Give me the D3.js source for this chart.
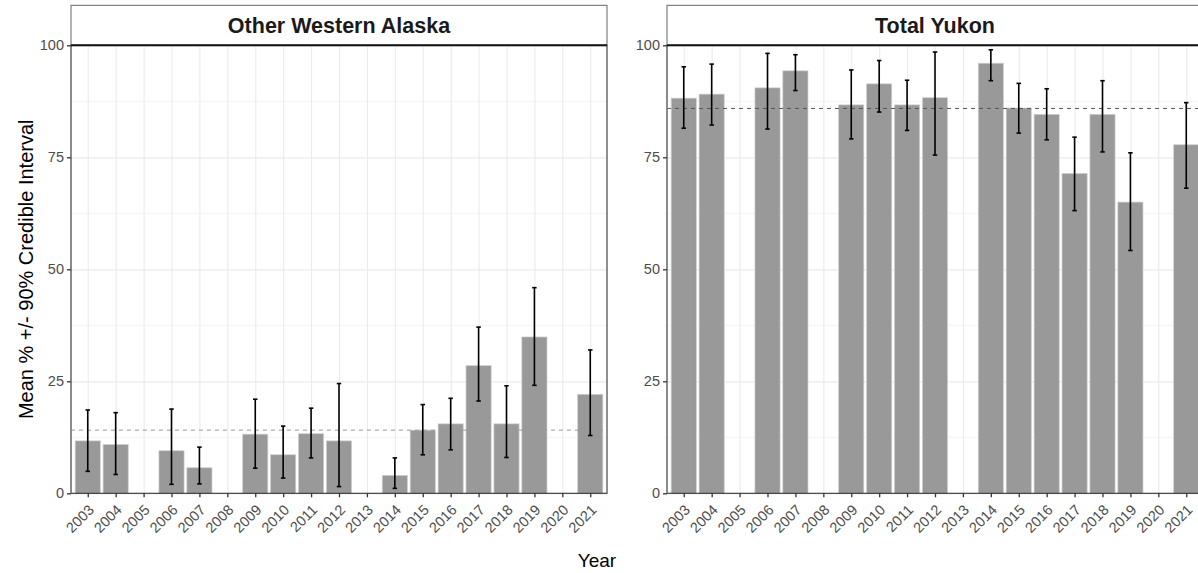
<!DOCTYPE html>
<html>
<head>
<meta charset="utf-8">
<script src="https://cdn.jsdelivr.net/npm/d3@7"></script>
<style>
	body { margin: 0; background: #fff; }
	svg { display: block; overflow: hidden; font-family: "Liberation Sans", Arial, sans-serif; }
	.grid line { stroke: #ebebeb; }
	.grid path { display: none; }
	.axis path { display: none; }
	.axis line { stroke: #333; }
	.axis text { fill: #4d4d4d; }
</style>
</head>
<body>
<svg width="1198" height="573"></svg>
<script>
var years = ["2003","2004","2005","2006","2007","2008","2009","2010","2011","2012","2013","2014","2015","2016","2017","2018","2019","2020","2021"];
var yTicks = [0, 25, 50, 75, 100];
var panelTitles = ["Other Western Alaska", "Total Yukon"];

// null = no estimate that year
var owaMean  = [11.7, 10.9, null, 9.5, 5.7, null, 13.2, 8.6, 13.3, 11.7, null, 4.0, 14.1, 15.5, 28.5, 15.5, 34.9, null, 22.1];
var owaLower = [4.9, 4.2, null, 2.0, 2.1, null, 5.6, 3.4, 7.9, 1.5, null, 1.1, 8.6, 9.7, 20.6, 8.0, 24.1, null, 12.9];
var owaUpper = [18.6, 18.0, null, 18.8, 10.3, null, 21.0, 15.0, 19.0, 24.5, null, 7.9, 19.8, 21.2, 37.1, 24.0, 45.9, null, 32.0];
var owaAvg = 14.1;

var yukMean  = [88.2, 89.1, null, 90.5, 94.3, null, 86.7, 91.4, 86.7, 88.3, null, 96.0, 86.0, 84.6, 71.4, 84.6, 65.0, null, 77.8];
var yukLower = [81.5, 82.2, null, 81.3, 89.9, null, 79.1, 85.1, 81.0, 75.5, null, 92.1, 80.4, 78.9, 63.1, 76.2, 54.2, null, 68.1];
var yukUpper = [95.2, 95.8, null, 98.2, 97.9, null, 94.5, 96.6, 92.2, 98.5, null, 99.0, 91.5, 90.3, 79.5, 92.1, 76.0, null, 87.2];
var yukAvg = 85.9;

function rows(mean, lo, hi) {
	return years.map(function(y, i) { return {year: y, mean: mean[i], lo: lo[i], hi: hi[i]}; })
		.filter(function(d) { return d.mean != null; });
}

var panels = [
	{title: panelTitles[0], left: 71, data: rows(owaMean, owaLower, owaUpper), avg: owaAvg, avgColor: "#9a9a9a"},
	{title: panelTitles[1], left: 667, data: rows(yukMean, yukLower, yukUpper), avg: yukAvg, avgColor: "#555"}
];

var panelW = 536, panelTop = 45.3, panelH = 448, stripH = 40;
var svg = d3.select("svg");

var x = d3.scalePoint().domain(years).range([0, panelW]).padding(0.6);
var y = d3.scaleLinear().domain([0, 100]).range([panelH, 0]);
var step = x.step();
var barW = step * 0.9, capW = step * 0.16;

panels.forEach(function(p) {
	var g = svg.append("g").attr("transform", "translate(" + p.left + "," + panelTop + ")");

	// minor + major grid
	g.append("g").selectAll("line").data([12.5, 37.5, 62.5, 87.5]).enter().append("line")
		.attr("x1", 0).attr("x2", panelW).attr("y1", function(d) { return y(d); }).attr("y2", function(d) { return y(d); })
		.attr("stroke", "#f3f3f3").attr("stroke-width", 1);
	g.append("g").attr("class", "grid").call(d3.axisLeft(y).tickValues(yTicks).tickSize(-panelW).tickFormat(""))
		.selectAll("line").attr("stroke-width", 1.3);
	g.append("g").attr("class", "grid").attr("transform", "translate(0," + panelH + ")")
		.call(d3.axisBottom(x).tickSize(-panelH).tickFormat(""))
		.selectAll("line").attr("stroke-width", 1.1);

	// bars
	g.selectAll(".bar").data(p.data).enter().append("rect")
		.attr("x", function(d) { return x(d.year) - barW / 2; })
		.attr("width", barW)
		.attr("y", function(d) { return y(d.mean); })
		.attr("height", function(d) { return panelH - y(d.mean); })
		.attr("fill", "#999999").attr("stroke", "#cfcfcf").attr("stroke-width", 0.7);

	// mean line
	g.append("line").attr("x1", 0).attr("x2", panelW).attr("y1", y(p.avg)).attr("y2", y(p.avg))
		.attr("stroke", p.avgColor).attr("stroke-dasharray", "4,4").attr("stroke-width", 1);

	// error bars
	var eb = g.selectAll(".eb").data(p.data).enter().append("g")
		.attr("stroke", "#000").attr("stroke-width", 1.6);
	eb.append("line").attr("x1", function(d) { return x(d.year); }).attr("x2", function(d) { return x(d.year); })
		.attr("y1", function(d) { return y(d.lo); }).attr("y2", function(d) { return y(d.hi); });
	eb.append("line").attr("x1", function(d) { return x(d.year) - capW / 2; }).attr("x2", function(d) { return x(d.year) + capW / 2; })
		.attr("y1", function(d) { return y(d.lo); }).attr("y2", function(d) { return y(d.lo); });
	eb.append("line").attr("x1", function(d) { return x(d.year) - capW / 2; }).attr("x2", function(d) { return x(d.year) + capW / 2; })
		.attr("y1", function(d) { return y(d.hi); }).attr("y2", function(d) { return y(d.hi); });

	// panel border
	g.append("rect").attr("x", 0).attr("y", 0).attr("width", panelW).attr("height", panelH)
		.attr("fill", "none").attr("stroke", "#333").attr("stroke-width", 1.1);
	g.append("line").attr("x1", 0).attr("x2", 0).attr("y1", 0).attr("y2", panelH)
		.attr("stroke", "#8a8a8a").attr("stroke-width", 1.3);

	// strip
	g.append("rect").attr("x", 0).attr("y", -stripH).attr("width", panelW).attr("height", stripH)
		.attr("fill", "#fff").attr("stroke", "#666").attr("stroke-width", 1);
	g.append("line").attr("x1", 0).attr("x2", panelW).attr("y1", 0).attr("y2", 0)
		.attr("stroke", "#111").attr("stroke-width", 2);
	g.append("text").attr("x", panelW / 2).attr("y", -stripH / 2).attr("dy", "0.36em")
		.attr("text-anchor", "middle").style("font-size", "21.5px").style("font-weight", "bold").attr("fill", "#1a1a1a")
		.text(p.title);

	// axes
	var ya = g.append("g").attr("class", "axis")
		.call(d3.axisLeft(y).tickValues(yTicks).tickSize(4).tickPadding(3));
	ya.selectAll("text").style("font-size", "14.5px");
	ya.selectAll("line").attr("stroke-width", 1.3);

	var xa = g.append("g").attr("class", "axis").attr("transform", "translate(0," + panelH + ")")
		.call(d3.axisBottom(x).tickSize(4));
	xa.selectAll("line").attr("stroke-width", 1.3);
	xa.selectAll("text").style("font-size", "14.5px")
		.attr("text-anchor", "end").attr("x", 0).attr("y", 0).attr("dy", "0.35em")
		.attr("transform", "translate(3,14) rotate(-45)");
});

svg.append("text").attr("x", 597).attr("y", 567).attr("text-anchor", "middle")
	.style("font-size", "19px").attr("fill", "#000").text("Year");
svg.append("text").attr("transform", "translate(33," + (panelTop + panelH / 2) + ") rotate(-90)")
	.attr("text-anchor", "middle").style("font-size", "20px").attr("fill", "#000")
	.text("Mean % +/- 90% Credible Interval");
</script>
</body>
</html>
